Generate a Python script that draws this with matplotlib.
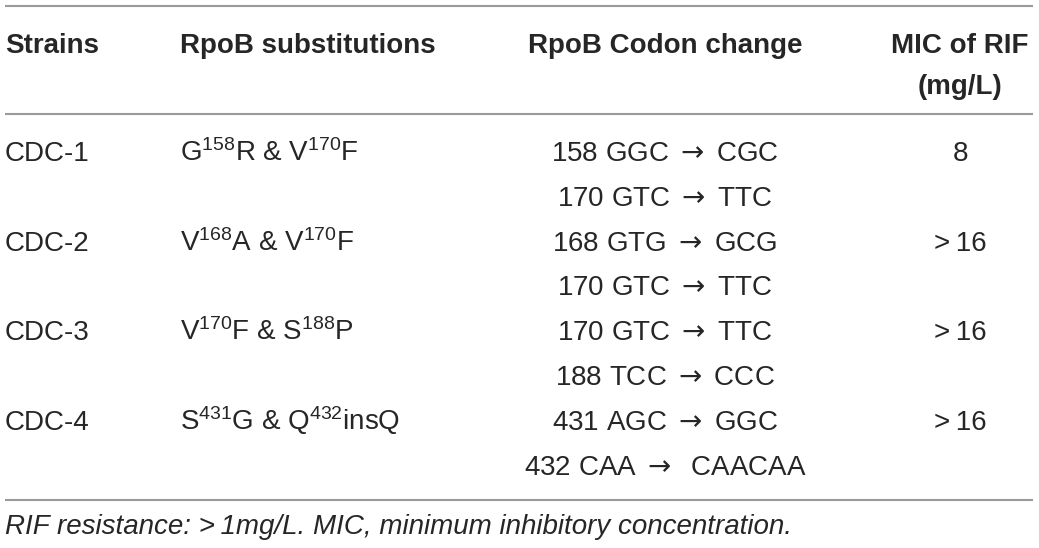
import matplotlib.pyplot as plt

plt.rcParams['font.family'] = ['Liberation Sans', 'DejaVu Sans']
plt.rcParams['mathtext.fontset'] = 'custom'
plt.rcParams['mathtext.rm'] = 'Liberation Sans'
plt.rcParams['mathtext.it'] = 'Liberation Sans:italic'
plt.rcParams['mathtext.bf'] = 'Liberation Sans:bold'
plt.rcParams['mathtext.sf'] = 'DejaVu Sans'

# table content
headers = ["Strains", "RpoB substitutions", "RpoB Codon change", "MIC of RIF\n(mg/L)"]
strains = ["CDC-1", "CDC-2", "CDC-3", "CDC-4"]
substitutions = [r"G$^{\mathrm{158}}$R & V$^{\mathrm{170}}$F",
                 r"V$^{\mathrm{168}}$A & V$^{\mathrm{170}}$F",
                 r"V$^{\mathrm{170}}$F & S$^{\mathrm{188}}$P",
                 r"S$^{\mathrm{431}}$G & Q$^{\mathrm{432}}$insQ"]
arrow = r"$\mathsf{\rightarrow}$"
codon_changes = [["158 GGC " + arrow + " CGC", "170 GTC " + arrow + " TTC"],
                 ["168 GTG " + arrow + " GCG", "170 GTC " + arrow + " TTC"],
                 ["170 GTC " + arrow + " TTC", "188 TCC " + arrow + " CCC"],
                 ["431 AGC " + arrow + " GGC", "432 CAA " + arrow + "  CAACAA"]]
mic = ["8", ">\u200916", ">\u200916", ">\u200916"]
footnote = "RIF resistance: >\u20091mg/L. MIC, minimum inhibitory concentration."

W, H = 1039, 548
fig = plt.figure(figsize=(W / 100, H / 100), dpi=100)
ax = fig.add_axes([0, 0, 1, 1])
ax.set_xlim(0, W)
ax.set_ylim(H, 0)
ax.axis("off")

txt = "#262626"
rule = "#9a9a9a"
fs = 20

# column anchors (x, ha)
cols = [(5, "left"), (180, "left"), (665, "center"), (960, "center")]

ax.hlines([6, 114, 500], 5, 1033, color=rule, lw=1.5)

# header (baselines)
for (x, ha), h in zip(cols, headers):
    for k, part in enumerate(h.split("\n")):
        ax.text(x, 53 + k * 41, part, ha=ha, va="baseline",
                fontsize=fs, fontweight="bold", color=txt)

# body rows (baselines)
y0 = 161
step = 44.8
for i in range(len(strains)):
    y = y0 + 2 * i * step
    ax.text(cols[0][0], y, strains[i], ha="left", va="baseline", fontsize=fs, color=txt)
    ax.text(cols[1][0], y, substitutions[i], ha="left", va="baseline", fontsize=fs, color=txt)
    for j, c in enumerate(codon_changes[i]):
        ax.text(cols[2][0], y + j * step, c, ha="center", va="baseline", fontsize=fs, color=txt)
    ax.text(cols[3][0], y, mic[i], ha="center", va="baseline", fontsize=fs, color=txt)

ax.text(5, 534, footnote, ha="left", va="baseline", fontsize=20, style="italic", color=txt)

fig.savefig("out.png", dpi=100)
